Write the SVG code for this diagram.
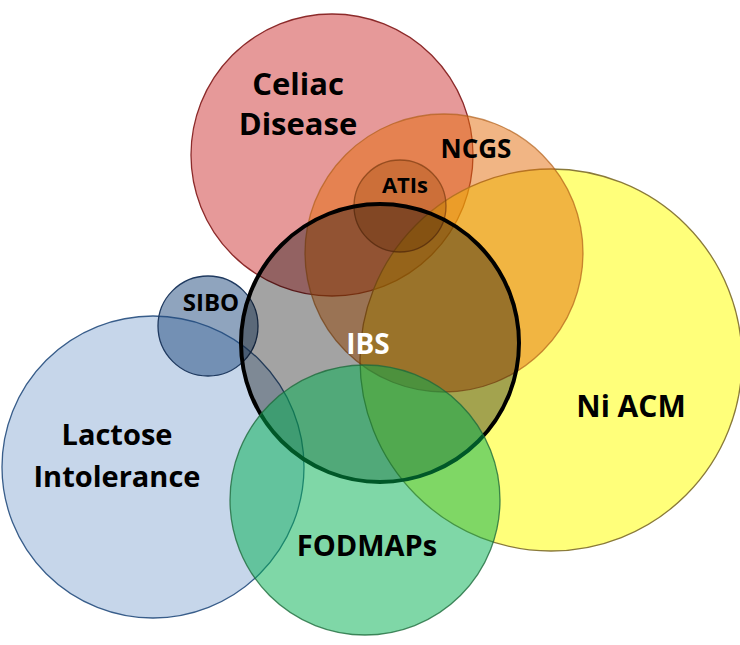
<svg xmlns="http://www.w3.org/2000/svg" width="740" height="645" viewBox="0 0 740 645">
<style>
text{font-family:"Open Sans","Liberation Sans",Arial,sans-serif;font-weight:700;fill:#000;text-anchor:middle}
.c{stroke-width:1.3}
.ibs{stroke:#000;stroke-width:4;fill:#000;fill-opacity:0.36}
.lab-white{fill:#fff}
</style>
<rect width="740" height="645" fill="#fff"/>
<g id="lactose">
<circle class="c" cx="153" cy="467" r="151" fill="#4F81BD" fill-opacity="0.32" stroke="#385D8A"/>
<text x="117" y="445" font-size="29">Lactose</text>
<text x="117" y="487" font-size="29">Intolerance</text>
</g>
<g id="sibo">
<circle class="c" cx="208" cy="326" r="50" fill="#1F497D" fill-opacity="0.5" stroke="#1F3A60"/>
<text x="211" y="311" font-size="24">SIBO</text>
</g>
<g id="celiac">
<circle class="c" cx="332" cy="155" r="141" fill="#C00000" fill-opacity="0.4" stroke="#8C2A2A"/>
<text x="298" y="95" font-size="31">Celiac</text>
<text x="298" y="135" font-size="31">Disease</text>
</g>
<g id="niacm">
<circle class="c" cx="551" cy="360" r="191" fill="#FFFF00" fill-opacity="0.52" stroke="#8A7A3A"/>
<text x="631" y="417" font-size="30">Ni ACM</text>
</g>
<g id="ncgs">
<circle class="c" cx="444" cy="253" r="139" fill="#E46C0A" fill-opacity="0.5" stroke="#B0601A" stroke-opacity="0.7"/>
<text x="476" y="158" font-size="26">NCGS</text>
</g>
<g id="atis">
<circle class="c" cx="400" cy="206" r="46" fill="#984807" fill-opacity="0.32" stroke="#7A3A10" stroke-opacity="0.7"/>
<text x="405" y="193" font-size="22">ATIs</text>
</g>
<g id="ibs">
<circle class="ibs" cx="380" cy="343" r="139"/>
<text class="lab-white" x="368" y="354" font-size="28">IBS</text>
</g>
<g id="fodmaps">
<circle class="c" cx="365" cy="500" r="135" fill="#00B050" fill-opacity="0.5" stroke="#1E6B3C" stroke-opacity="0.8"/>
<text x="367" y="556" font-size="29">FODMAPs</text>
</g>
</svg>
